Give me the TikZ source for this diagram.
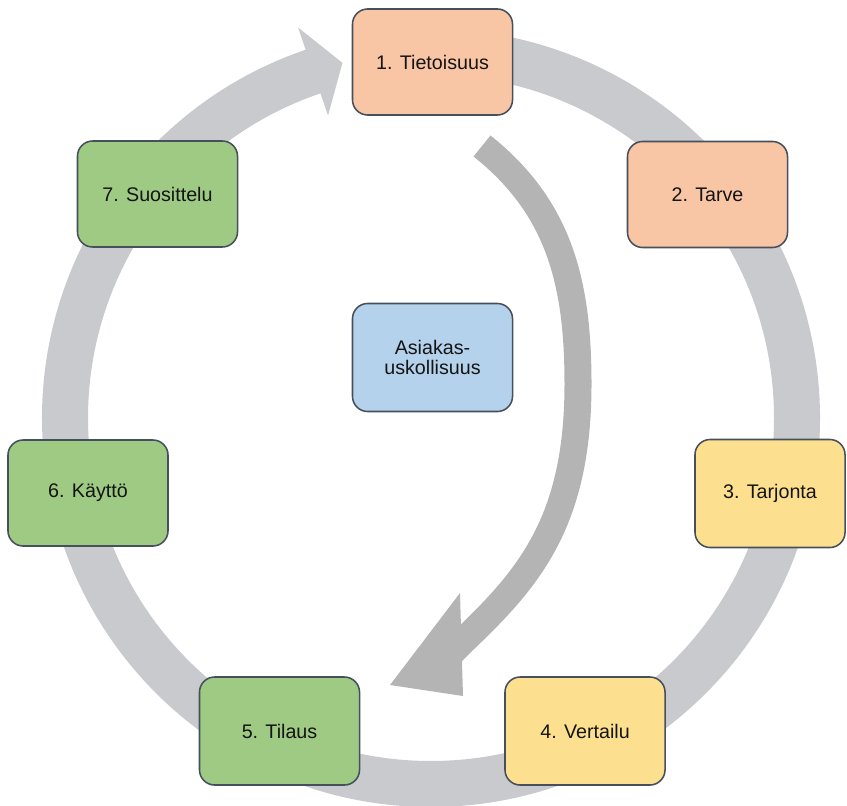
\documentclass[tikz,border=0pt]{standalone}
\usepackage{fontspec}
\setmainfont{Liberation Sans}
\definecolor{ringgray}{HTML}{C9CACE}
\definecolor{arrgray}{HTML}{B4B4B4}
\definecolor{edgecol}{HTML}{46505C}
\definecolor{peach}{HTML}{F8C5A5}
\definecolor{yel}{HTML}{FDE08F}
\definecolor{grn}{HTML}{9ECA84}
\definecolor{blu}{HTML}{B5D2EC}
\begin{document}
\begin{tikzpicture}[x=0.025cm,y=0.025cm,
  box/.style={draw=edgecol, line width=1.1pt, rounded corners=0.38cm,
    minimum width=4cm, minimum height=2.65cm, inner sep=0pt, align=center,
    font=\fontsize{14}{14.4}\selectfont, text=black!92},
]
\useasboundingbox (0,0) rectangle (847,805);
% outer ring arrow
\coordinate (rc) at (431,387);
\draw[ringgray, line width=1.15cm] ([shift={(92:366)}]rc) arc[start angle=92, end angle=-251.5, radius=366];
\fill[ringgray] ([shift={(108.8:412.5)}]rc) -- ([shift={(104:366)}]rc) -- ([shift={(108.8:319.5)}]rc) -- cycle;
% inner curved arrow
\coordinate (t0) at (482,659);
\coordinate (t1) at (578,421);
\coordinate (t2) at (462,163);
\coordinate (t3) at (440,141);
\begin{scope}
  \clip (444.6,705) -- (700,705) -- (700,5) -- (465,5) -- cycle;
  \draw[arrgray, line width=0.675cm] (t0) .. controls (560,597) and (578,521) .. (t1)
     .. controls (578,281) and (527,225) .. (t2) -- (t3);
\end{scope}
\fill[arrgray] (460,212) -- (463,109) -- (390,120) -- cycle;
% nodes
\node[box, fill=peach] (n1) at (432.5,743) {1. Tietoisuus};
\node[box, fill=peach] (n2) at (707.5,610.5) {2. Tarve};
\node[box, fill=yel, minimum width=3.75cm, minimum height=2.7cm] (n3) at (770,311.5) {3. Tarjonta};
\node[box, fill=yel, minimum height=2.7cm] (n4) at (585,74) {4. Vertailu};
\node[box, fill=grn, minimum height=2.7cm] (n5) at (279.5,74) {5. Tilaus};
\node[box, fill=grn] (n6) at (88,312) {6. Käyttö};
\node[box, fill=grn] (n7) at (157.5,611) {7. Suosittelu};
\node[box, fill=blu, minimum height=2.7cm] (c) at (432.5,447.5) {Asiakas-\\uskollisuus};
\end{tikzpicture}
\end{document}
